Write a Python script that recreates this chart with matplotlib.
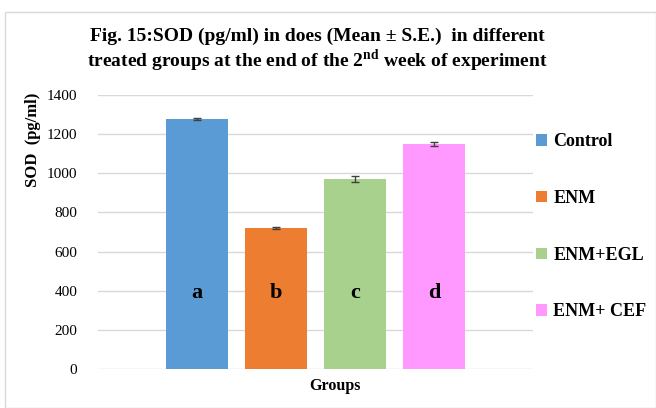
import matplotlib
matplotlib.use("Agg")
import matplotlib.pyplot as plt
from matplotlib.patches import Patch, Rectangle

plt.rcParams["mathtext.fontset"] = "custom"
plt.rcParams["mathtext.rm"] = "Liberation Serif"
plt.rcParams["mathtext.bf"] = "Liberation Serif:bold"

groups = ["Control", "ENM", "ENM+EGL", "ENM+ CEF"]
means = [1277, 720, 970, 1150]
errors = [6, 7, 15, 11]
letters = ["a", "b", "c", "d"]
colors = ["#5b9bd5", "#ed7d31", "#a9d18e", "#ff99ff"]
yticks = [0, 200, 400, 600, 800, 1000, 1200, 1400]

serif = ["Liberation Serif", "DejaVu Serif"]

fig = plt.figure(figsize=(6.56, 4.08), dpi=100)
fig.patches.append(Rectangle((5/656, 0), 1 - 5/656, 1 - 12/408, transform=fig.transFigure,
                             fill=False, edgecolor="#d9d9d9", linewidth=1))
ax = fig.add_axes([98/656, 1 - 369/408, (533 - 98)/656, (369 - 95)/408])

x = list(range(len(groups)))
for i in x:
    ax.bar(i, means[i], width=0.785, color=colors[i], zorder=3)
    ax.errorbar(i, means[i], yerr=errors[i], fmt="none", ecolor="#404040",
                elinewidth=1, capsize=3, capthick=1, zorder=4)
    ax.text(i, 363, letters[i], ha="center", va="baseline", fontsize=16,
            fontweight="bold", family=serif, zorder=5)

ax.set_xlim(-1.25, 3 + 1.25)
ax.set_ylim(0, 1400)
ax.set_yticks(yticks)
ax.set_yticklabels([str(v) for v in yticks], family=serif, fontsize=11)
ax.set_xticks([])
ax.grid(axis="y", color="#d9d9d9", linewidth=1, zorder=0)
for s in ax.spines.values():
    s.set_visible(False)
ax.tick_params(axis="y", length=0, pad=15)

fig.text(33/656, 1 - 140/408, "SOD  (pg/ml)", rotation=90, ha="center", va="center",
         fontsize=12, fontweight="bold", family=serif)
fig.text(335/656, 1 - 386/408, "Groups", ha="center", va="center",
         fontsize=11.5, fontweight="bold", family=serif)

fig.text(317/656, 1 - 36/408, "Fig. 15:SOD (pg/ml) in does (Mean \u00b1 S.E.)  in different",
         ha="center", va="center", fontsize=14, fontweight="bold", family=serif)
fig.text(317/656, 1 - 61/408, "treated groups at the end of the 2$^{\\mathbf{nd}}$ week of experiment",
         ha="center", va="center", fontsize=14, fontweight="bold", family=serif)

handles = [Patch(facecolor=c, edgecolor="none") for c in colors]
leg = fig.legend(handles, groups, loc="upper left", bbox_to_anchor=(529/656, 1 - 126/408),
                 frameon=False, prop={"family": serif, "weight": "bold", "size": 13},
                 labelspacing=2.2, handlelength=0.6, handleheight=0.6, handletextpad=0.35,
                 borderaxespad=0)

fig.savefig("out.png", dpi=100)
